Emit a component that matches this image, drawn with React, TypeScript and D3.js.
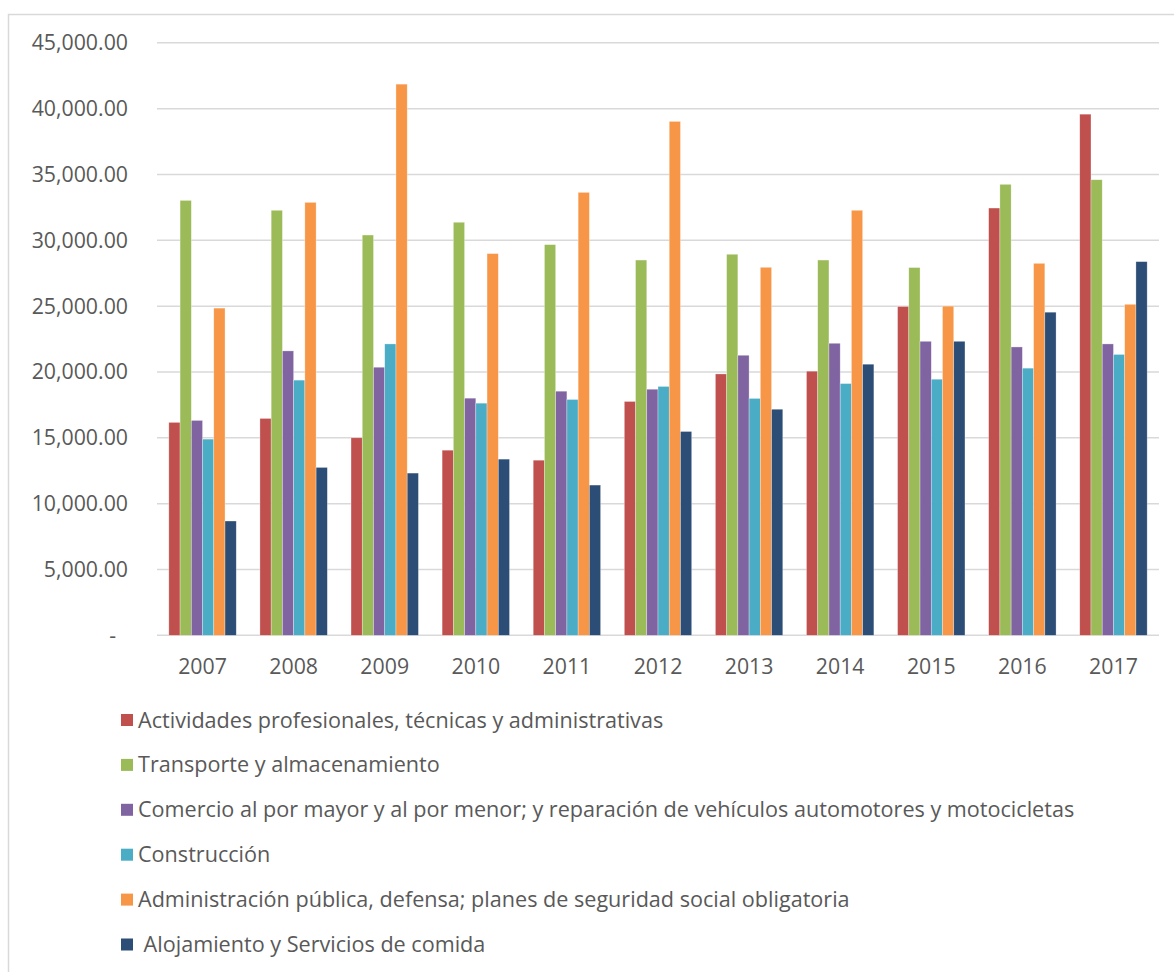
import React from 'react';
import * as d3 from 'd3';

const years = ['2007','2008','2009','2010','2011','2012','2013','2014','2015','2016','2017'];

const seriesNames = [
  'Actividades profesionales, técnicas y administrativas',
  'Transporte y almacenamiento',
  'Comercio al por mayor y al por menor; y reparación de vehículos automotores y motocicletas',
  'Construcción',
  'Administración pública, defensa; planes de seguridad social obligatoria',
  ' Alojamiento y Servicios de comida',
];

const seriesColors = ['#C0504D', '#9BBB59', '#8064A2', '#4BACC6', '#F79646', '#2C4D75'];

const profesionales = [16170, 16470, 15000, 14060, 13300, 17760, 19850, 20060, 24970, 32450, 39580];
const transporte = [33030, 32280, 30400, 31370, 29670, 28500, 28940, 28500, 27930, 34250, 34600];
const comercio = [16320, 21600, 20360, 18010, 18540, 18690, 21270, 22180, 22330, 21900, 22130];
const construccion = [14900, 19380, 22130, 17630, 17910, 18900, 17990, 19120, 19450, 20290, 21330];
const administracion = [24850, 32880, 41860, 28990, 33640, 39030, 27950, 32280, 25000, 28250, 25140];
const alojamiento = [8680, 12750, 12320, 13380, 11410, 15480, 17170, 20590, 22330, 24540, 28380];

const seriesValues = [profesionales, transporte, comercio, construccion, administracion, alojamiento];

const yTicks = [0, 5000, 10000, 15000, 20000, 25000, 30000, 35000, 40000, 45000];

const W = 1174;
const H = 972;
const FONT = '"Open Sans", "Noto Sans", sans-serif';
const TEXT = '#595959';
const GRID = '#D9D9D9';

export default function App() {
  const x0 = d3.scaleBand<string>().domain(years).range([157, 1159]).paddingInner(0.26).paddingOuter(0.13);
  const x1 = d3.scaleBand<number>().domain(d3.range(seriesNames.length)).range([0, x0.bandwidth()]);
  const y = d3.scaleLinear().domain([0, 45000]).range([635.3, 42.8]);
  const fmt = d3.format(',.2f');

  return (
    <svg width={W} height={H} style={{ position: 'absolute', left: 0, top: 0, background: '#fff' }}>
      <rect x={0} y={0} width={W} height={H} fill="#fff" />
      <rect x={8.5} y={14.5} width={W + 20} height={H + 20} fill="none" stroke={GRID} strokeWidth={1.5} />
      {yTicks.map((t) => (
        <g key={t}>
          <line x1={157} x2={1159} y1={y(t)} y2={y(t)} stroke={GRID} strokeWidth={1.5} />
          <text
            x={t === 0 ? 116 : 128}
            y={y(t)}
            dy="0.35em"
            textAnchor="end"
            fontFamily={FONT}
            fontSize={21.3}
            fill={TEXT}
          >
            {t === 0 ? '-' : fmt(t)}
          </text>
        </g>
      ))}
      {years.map((yr, i) => (
        <g key={yr} transform={`translate(${x0(yr)},0)`}>
          {seriesValues.map((vals, s) => (
            <rect
              key={s}
              x={x1(s)}
              y={y(vals[i])}
              width={x1.bandwidth()}
              height={y(0) - y(vals[i])}
              fill={seriesColors[s]}
              stroke="#ffffff"
              strokeOpacity={0.5}
              strokeWidth={0.6}
            />
          ))}
          <text
            x={x0.bandwidth() / 2}
            y={667}
            dy="0.35em"
            textAnchor="middle"
            fontFamily={FONT}
            fontSize={21.3}
            fill={TEXT}
          >
            {yr}
          </text>
        </g>
      ))}
      {seriesNames.map((name, s) => (
        <g key={s} transform={`translate(121, ${720 + s * 44.9})`}>
          <rect x={0} y={-6} width={12} height={12} fill={seriesColors[s]} />
          <text
            x={17}
            y={0}
            dy="0.35em"
            fontFamily={FONT}
            fontSize={21.6}
            fill={TEXT}
            style={{ whiteSpace: 'pre' }}
          >
            {name}
          </text>
        </g>
      ))}
    </svg>
  );
}
